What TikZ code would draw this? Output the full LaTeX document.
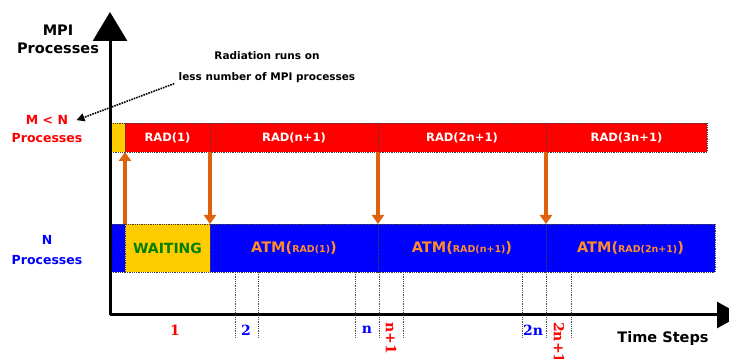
\documentclass[tikz,border=0pt]{standalone}
\usepackage{fontspec}
\setmainfont{DejaVu Sans}
\newfontfamily\tickserif{DejaVu Serif}
\usetikzlibrary{positioning,arrows.meta}
\definecolor{waityellow}{RGB}{255,204,0}
\definecolor{atmorange}{RGB}{255,140,40}
\definecolor{xchorange}{RGB}{222,97,14}
\definecolor{waitgreen}{RGB}{0,128,0}
\newcommand{\atmlabel}[1]{{\fontsize{14.5}{16}\selectfont ATM(}{\fontsize{9.5}{11}\selectfont #1}{\fontsize{14.5}{16}\selectfont )}}

\begin{document}
\begin{tikzpicture}[x=1pt, y=1pt,
    seg/.style={draw=black!75, densely dotted, line width=0.8pt, inner sep=0pt, outer sep=0pt},
    radseg/.style={seg, fill=red, minimum height=29pt, text=white, font=\fontsize{11.5}{13}\selectfont\bfseries},
    atmseg/.style={seg, fill=blue, minimum height=48pt, text=atmorange, font=\bfseries},
    axis/.style={line width=3pt, -{Triangle[length=29pt, width=34pt]}},
    xch/.style={xchorange, line width=3.2pt, -{Triangle[length=9pt, width=12pt]}},
    guide/.style={black!70, densely dotted, line width=0.8pt},
    tick/.style={font=\tickserif\bfseries\fontsize{14}{16}\selectfont, inner sep=0pt},
    lbl/.style={font=\bfseries, align=center},
]
  \clip (0,0) rectangle (729,359);

  \coordinate (o) at (110,44);
  \coordinate (ytop) at (110,347);
  \coordinate (xend) at (741,44);

  \node[radseg, fill=waityellow, minimum width=14pt] (rgap) at (118,221.5) {};
  \node[radseg, minimum width=85pt] (rad1) at (167.5,221.5) {RAD(1)};
  \node[radseg, minimum width=168pt] (rad2) at (294,221.5) {RAD(n+1)};
  \node[radseg, minimum width=168pt] (rad3) at (462,221.5) {RAD(2n+1)};
  \node[radseg, minimum width=161pt] (rad4) at (626.5,221.5) {RAD(3n+1)};

  \node[atmseg, minimum width=14pt] (bgap) at (118,111) {};
  \node[atmseg, fill=waityellow, minimum width=85pt, text=waitgreen, font=\fontsize{14}{16}\selectfont\bfseries] (wait) at (167.5,111) {WAITING};
  \node[atmseg, minimum width=168pt] (atm1) at (294,111) {\atmlabel{RAD(1)}};
  \node[atmseg, minimum width=168pt] (atm2) at (462,111) {\atmlabel{RAD(n+1)}};
  \node[atmseg, minimum width=169pt] (atm3) at (630.5,111) {\atmlabel{RAD(2n+1)}};

  \draw[xch] (wait.north west) -- (rgap.south east);
  \draw[xch] (rad1.south east) -- (atm1.north west);
  \draw[xch] (rad2.south east) -- (atm2.north west);
  \draw[xch] (rad3.south east) -- (atm3.north west);

  \foreach \x in {235,258,355,379,403,522,546,571}
    \draw[guide] (\x,87) -- (\x,22);

  \draw[axis] (o) -- (ytop);
  \draw[axis, -{Triangle[length=24pt, width=26pt]}] (o) -- (xend);

  \node[lbl, font=\fontsize{14.5}{18}\selectfont\bfseries] (yname) at (58,320) {MPI\\Processes};
  \node[lbl, font=\fontsize{14.5}{16}\selectfont\bfseries] (xname) at (663,21) {Time Steps};
  \node[lbl, font=\fontsize{10.5}{21}\selectfont\bfseries] (note) at (267,291.5) {Radiation runs on\\less number of MPI processes};
  \node[lbl, text=red, font=\fontsize{12.5}{18}\selectfont\bfseries, inner sep=0pt] (mn) at (47,230) {M < N\\Processes};
  \node[lbl, text=blue, font=\fontsize{12.5}{20}\selectfont\bfseries, inner sep=0pt] (nproc) at (47,109) {N\\Processes};

  \draw[densely dotted, line width=1.6pt, -{Triangle[length=8pt, width=8pt]}] ([shift={(-1,3)}]note.south west) -- ([shift={(-6,-5)}]mn.north east);

  \node[tick, text=red] (t1) at (175,29) {1};
  \node[tick, text=blue] (t2) at (246,29) {2};
  \node[tick, text=blue] (tn) at (367,29) {n};
  \node[tick, text=red, rotate=-90, anchor=west] (tn1) at (391,37) {n+1};
  \node[tick, text=blue] (t2n) at (533,29) {2n};
  \node[tick, text=red, rotate=-90, anchor=west] (t2n1) at (559,37) {2n+1};
\end{tikzpicture}
\end{document}
